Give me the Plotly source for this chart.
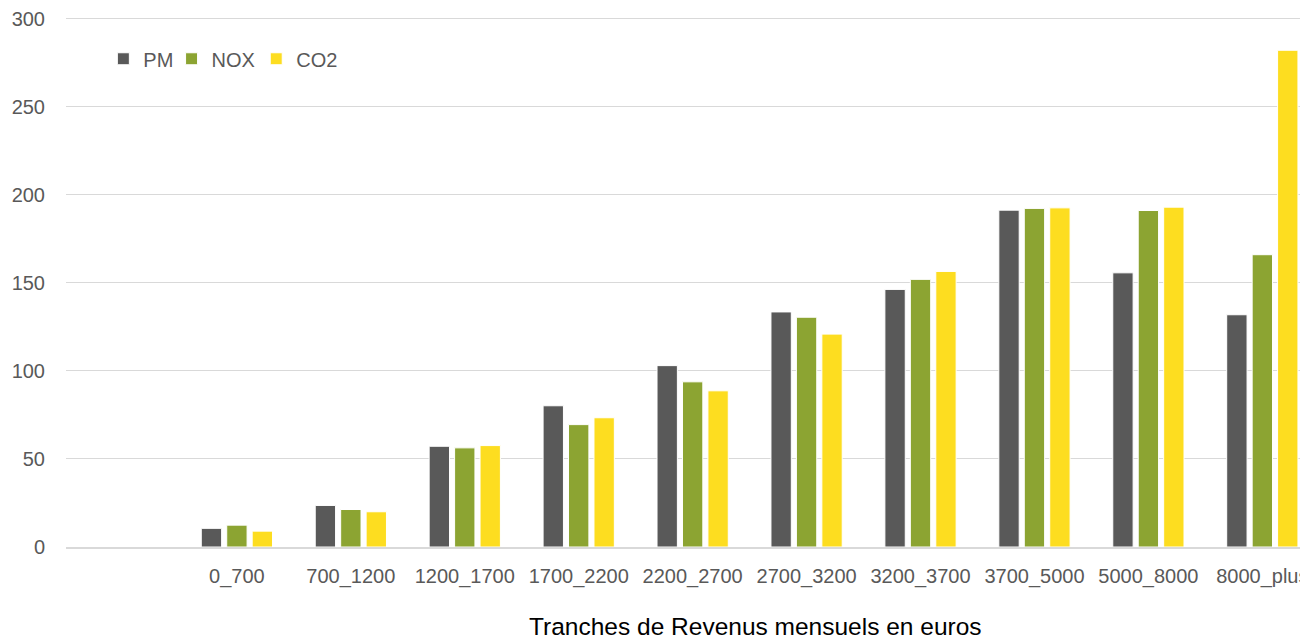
import plotly.graph_objects as go

categories = ["0_700", "700_1200", "1200_1700", "1700_2200", "2200_2700",
              "2700_3200", "3200_3700", "3700_5000", "5000_8000", "8000_plus"]
pm = [10.6, 23.6, 57.2, 80.2, 103.0, 133.5, 146.3, 191.3, 155.7, 131.9]
nox = [12.4, 21.3, 56.3, 69.5, 93.8, 130.5, 152.0, 192.3, 191.1, 166.0]
co2 = [9.0, 20.0, 57.6, 73.4, 88.7, 120.9, 156.5, 192.6, 193.0, 282.1]
y_ticks = [0, 50, 100, 150, 200, 250, 300]

font_family = "Liberation Sans, Arial, sans-serif"
grey_text = "#595959"

# page body has an 8px margin: figure origin sits at (8, 8)
W, H = 1300, 634
ml, mt, mb = 58, 6, 95
plot_w, plot_h = W - ml, H - mt - mb
y_top = 301  # slightly above 300 so the 300 gridline is drawn

series = [("PM", pm, "#595959", "legend", 103.5),
          ("NOX", nox, "#8CA432", "legend2", 172.0),
          ("CO2", co2, "#FDDD20", "legend3", 257.0)]

fig = go.Figure()
legends = {}
for name, vals, col, lg, page_x in series:
    fig.add_trace(go.Bar(name=name, x=categories, y=vals, legend=lg,
                         marker=dict(color=col, line=dict(color="white", width=1))))
    legends[lg] = dict(orientation="h", x=(page_x - 8 - ml) / plot_w,
                       y=1 - (56 - 8 - mt) / plot_h, xanchor="left", yanchor="middle",
                       font=dict(size=20, color=grey_text, family=font_family),
                       bgcolor="rgba(0,0,0,0)", itemwidth=30)

fig.update_layout(
    width=W, height=H,
    margin=dict(l=ml, r=0, t=mt, b=mb),
    paper_bgcolor="white", plot_bgcolor="white",
    barmode="group", bargap=0.33, bargroupgap=0.2,
    font=dict(family=font_family, size=20, color=grey_text),
    showlegend=True,
    **legends,
)
fig.update_xaxes(type="category", range=[-1.5, 9.357], showgrid=False, showline=True,
                 linecolor="#D9D9D9", linewidth=2, ticks="", tickfont=dict(size=20, color=grey_text),
                 ticklabelstandoff=10)
fig.update_yaxes(range=[0, y_top], tickvals=y_ticks, showgrid=True, gridcolor="#D9D9D9", gridwidth=1,
                 zeroline=False, showline=False, ticks="", tickfont=dict(size=20, color=grey_text),
                 ticklabelstandoff=20, ticklabeloverflow="allow")
fig.add_annotation(text="Tranches de Revenus mensuels en euros", xref="paper", yref="paper",
                   x=(758.5 - 8 - ml) / plot_w, y=-(627 - 8 - (mt + plot_h)) / plot_h,
                   xanchor="center", yanchor="middle",
                   showarrow=False, font=dict(size=24.5, color="black", family=font_family))

fig.write_html("out.html")
